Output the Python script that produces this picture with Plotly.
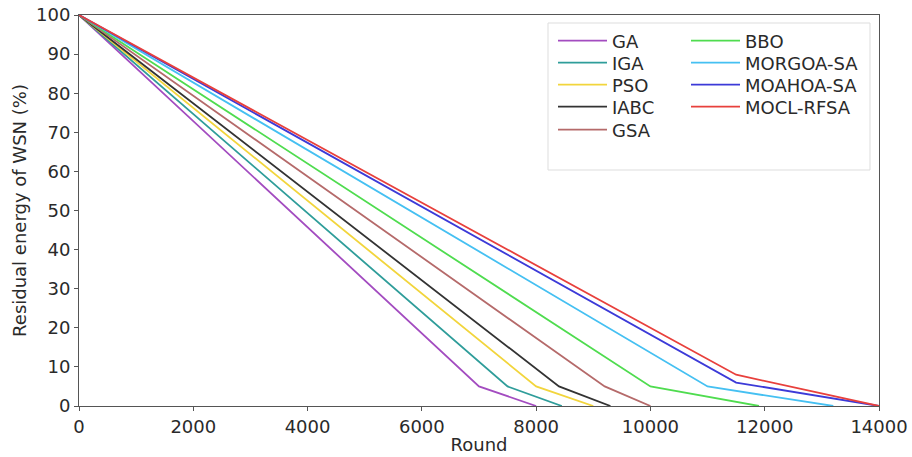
import plotly.graph_objects as go

names = ["GA", "IGA", "PSO", "IABC", "GSA", "BBO", "MORGOA-SA", "MOAHOA-SA", "MOCL-RFSA"]
colors = ["#a34cc0", "#2f9d9a", "#f2d53c", "#333333", "#b56a6a", "#4fdc4f", "#45c0f2", "#3c3ad8", "#e8403c"]
rounds = [
    [0, 7000, 8000],
    [0, 7500, 8450],
    [0, 8000, 9000],
    [0, 8400, 9300],
    [0, 9200, 10000],
    [0, 10000, 11900],
    [0, 11000, 13200],
    [0, 11500, 14000],
    [0, 11500, 14000],
]
energy = [
    [100, 5, 0],
    [100, 5, 0],
    [100, 5, 0],
    [100, 5, 0],
    [100, 5, 0],
    [100, 5, 0],
    [100, 5, 0],
    [100, 6, 0],
    [100, 8, 0],
]
x_ticks = list(range(0, 14001, 2000))
y_ticks = list(range(0, 101, 10))

W, H = 912, 457
L, R, T, B = 79, 33, 15, 51
pw, ph = W - L - R, H - T - B

def px(xp):
    return (xp - L) / pw

def py(yp):
    return (H - B - yp) / ph

font = dict(family="DejaVu Sans", size=18, color="#2a2a2a")

fig = go.Figure()
legend_layouts = {}
row_y = [41, 63, 85, 107, 130]
for i, n in enumerate(names):
    key = "legend" if i == 0 else f"legend{i + 1}"
    fig.add_trace(go.Scatter(
        x=rounds[i], y=energy[i], mode="lines", name=n,
        line=dict(color=colors[i], width=1.8),
        legend=key, showlegend=True,
    ))
    col = 0 if i < 5 else 1
    row = i if i < 5 else i - 5
    legend_layouts[key] = dict(
        x=px(553 if col == 0 else 686), y=py(row_y[row]),
        xanchor="left", yanchor="middle",
        bgcolor="rgba(0,0,0,0)", borderwidth=0, font=font,
        itemwidth=49, visible=True,
    )

fig.update_layout(
    width=W, height=H,
    showlegend=True,
    margin=dict(l=L, r=R, t=T, b=B, autoexpand=False),
    paper_bgcolor="white", plot_bgcolor="white",
    font=font,
    xaxis=dict(
        range=[0, 14000], tickvals=x_ticks, ticktext=[str(v) for v in x_ticks],
        showgrid=False, zeroline=False, showline=True, mirror=True,
        linecolor="#555555", linewidth=1, ticks="outside", ticklen=4,
        tickcolor="#555555", tickfont=font, automargin=False,
        title=dict(text="Round", font=font, standoff=2),
    ),
    yaxis=dict(
        range=[0, 100], tickvals=y_ticks, ticktext=[str(v) for v in y_ticks],
        showgrid=False, zeroline=False, showline=True, mirror=True,
        linecolor="#555555", linewidth=1, ticks="outside", ticklen=4,
        tickcolor="#555555", tickfont=font, automargin=False,
        title=dict(text="Residual energy of WSN (%)", font=font, standoff=4),
    ),
    shapes=[dict(
        type="rect", xref="paper", yref="paper",
        x0=px(548), x1=px(870), y0=py(170), y1=py(23),
        line=dict(color="#dddddd", width=1), fillcolor="rgba(255,255,255,0.8)",
        layer="below",
    )],
    **legend_layouts,
)

fig.write_html("out.html")
